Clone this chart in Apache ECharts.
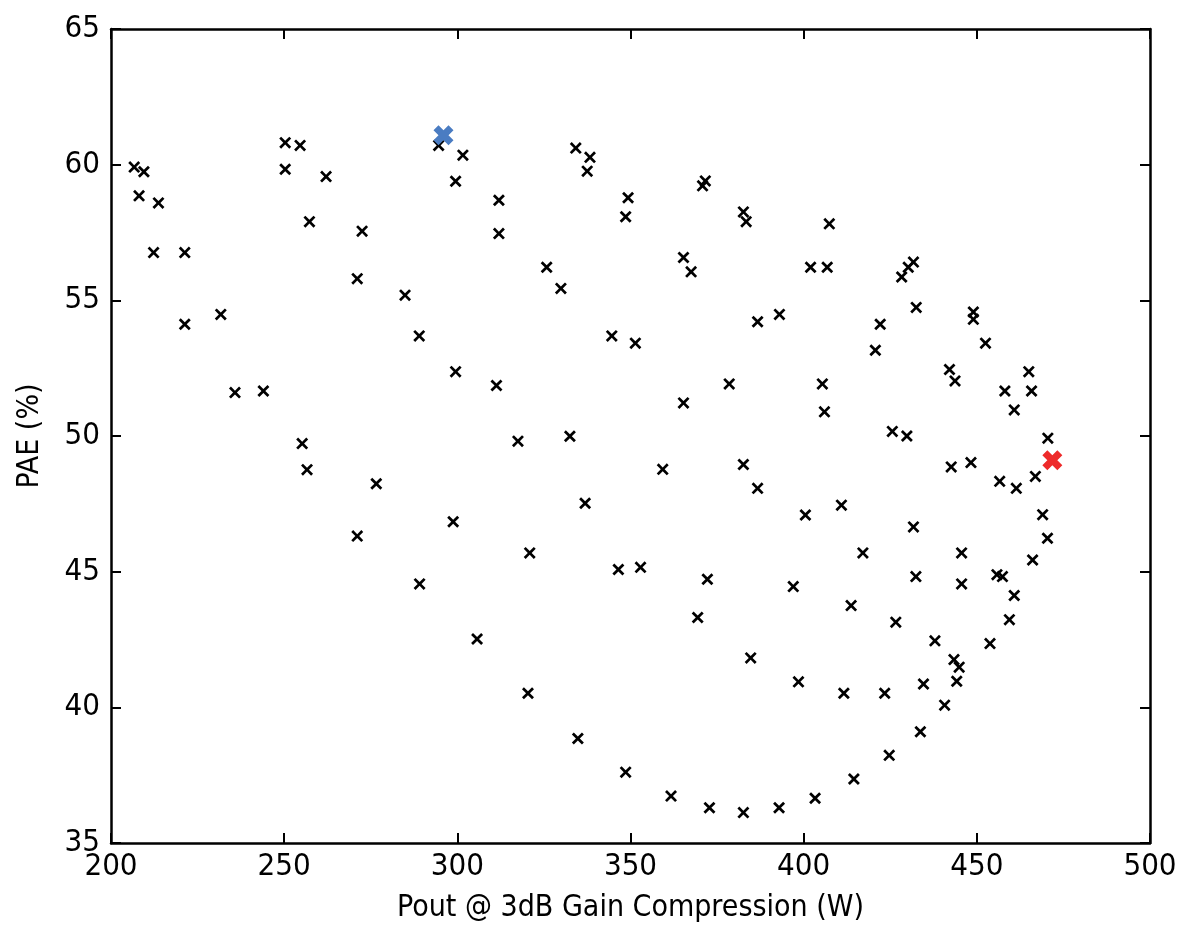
<!DOCTYPE html>
<html>
<head>
<meta charset="utf-8">
<script src="https://cdn.jsdelivr.net/npm/echarts@6/dist/echarts.min.js"></script>
<style>
html,body{margin:0;padding:0;background:#fff;}
#chart{width:1189px;height:928px;}
</style>
</head>
<body>
<div id="chart"></div>
<script>
// Load-pull contour points: Pout (W) and PAE (%)
const pout = [
206.7,209.5,208.1,213.7,212.3,221.3,221.3,231.7,235.8,244.0,
250.3,254.6,250.3,262.1,257.3,272.5,271.1,294.6,301.6,299.5,
312.0,312.0,325.8,329.9,284.9,289.0,299.5,311.3,334.2,338.3,
337.5,349.3,348.6,344.6,351.4,382.6,383.4,407.4,365.3,367.5,
402.0,406.8,431.7,430.2,428.3,432.5,393.0,386.7,422.1,420.7,
442.1,443.7,378.5,405.4,365.3,406.0,425.6,429.8,382.6,386.7,
442.6,359.3,449.0,449.0,452.5,465.0,458.1,465.8,460.8,470.5,
448.3,456.6,461.4,466.9,469.0,317.5,255.2,256.6,276.6,298.8,
271.1,320.9,289.1,305.7,336.9,400.5,410.9,346.5,352.9,372.2,
397.0,417.1,413.7,426.6,369.4,384.7,398.5,411.6,423.4,320.4,
334.8,348.6,361.7,372.8,382.6,392.9,403.3,414.5,424.7,470.4,
431.7,445.6,466.1,432.4,445.6,455.8,457.4,460.8,459.4,437.9,
453.8,443.4,444.9,444.2,434.6,440.7,433.7,371.6,370.8,332.5
];
const pae = [
59.91,59.74,58.85,58.59,56.76,56.76,54.12,54.48,51.60,51.66,
60.81,60.71,59.83,59.56,57.90,57.55,55.80,60.71,60.35,59.39,
58.69,57.46,56.22,55.44,55.19,53.69,52.37,51.86,60.61,60.27,
59.76,58.78,58.08,53.69,53.42,58.26,57.90,57.82,56.58,56.05,
56.22,56.22,56.41,56.22,55.86,54.74,54.48,54.21,54.12,53.16,
52.45,52.03,51.92,51.92,51.22,50.89,50.17,50.00,48.95,48.07,
48.86,48.77,54.57,54.30,53.42,52.37,51.66,51.66,50.96,49.92,
49.02,48.33,48.07,48.51,47.10,49.81,49.72,48.76,48.24,46.84,
46.31,45.69,44.55,42.52,47.52,47.09,47.45,45.08,45.16,44.72,
44.45,45.69,43.75,43.14,43.31,41.82,40.94,40.52,40.52,40.52,
38.85,37.61,36.73,36.30,36.12,36.30,36.65,37.36,38.23,46.23,
46.65,45.69,45.43,44.82,44.55,44.89,44.82,44.12,43.23,42.45,
42.35,41.76,41.48,40.96,40.86,40.08,39.10,59.40,59.22,49.99
];
// Highlighted optima
const maxPae = [296.0, 61.08];   // blue
const maxPout = [471.8, 49.11];  // red

const xTicks = [200, 250, 300, 350, 400, 450, 500];
const yTicks = [35, 40, 45, 50, 55, 60, 65];

const FONT = "'Liberation Sans Narrow', 'DejaVu Sans Condensed', 'Roboto', sans-serif";
const smallX = 'path://M0,1.6L1.6,0L5,3.4L8.4,0L10,1.6L6.6,5L10,8.4L8.4,10L5,6.6L1.6,10L0,8.4L3.4,5Z';
const bigX = 'path://M0,2.5L2.5,0L5,2.5L7.5,0L10,2.5L7.5,5L10,7.5L7.5,10L5,7.5L2.5,10L0,7.5L2.5,5Z';

const pts = pout.map((x, i) => [x, pae[i]]);

const axisLine = {show: true, lineStyle: {color: '#000', width: 2.5}};
const tick = {show: true, inside: true, length: 10, lineStyle: {color: '#000', width: 2}};

const chart = echarts.init(document.getElementById('chart'), null, {renderer: 'canvas'});
chart.setOption({
  animation: false,
  backgroundColor: '#fff',
  grid: {left: 111, right: 39, top: 29, bottom: 81, containLabel: false},
  xAxis: [{
    type: 'value', min: xTicks[0], max: xTicks[xTicks.length-1], interval: 50,
    position: 'bottom',
    axisLine: axisLine, axisTick: tick, splitLine: {show: false},
    axisLabel: {color: '#000', fontSize: 31, fontFamily: FONT, margin: 8},
    name: 'Pout @ 3dB Gain Compression (W)', nameLocation: 'middle', nameGap: 50,
    nameTextStyle: {color: '#000', fontSize: 30, fontFamily: FONT}
  }, {
    type: 'value', min: xTicks[0], max: xTicks[xTicks.length-1], interval: 50,
    position: 'top',
    axisLine: axisLine, axisTick: tick, splitLine: {show: false},
    axisLabel: {show: false}
  }],
  yAxis: [{
    type: 'value', min: yTicks[0], max: yTicks[yTicks.length-1], interval: 5,
    position: 'left',
    axisLine: axisLine, axisTick: tick, splitLine: {show: false},
    axisLabel: {color: '#000', fontSize: 31, fontFamily: FONT, margin: 11},
    name: 'PAE (%)', nameLocation: 'middle', nameGap: 66,
    nameTextStyle: {color: '#000', fontSize: 30, fontFamily: FONT}
  }, {
    type: 'value', min: yTicks[0], max: yTicks[yTicks.length-1], interval: 5,
    position: 'right',
    axisLine: axisLine, axisTick: tick, splitLine: {show: false},
    axisLabel: {show: false}
  }],
  series: [{
    type: 'scatter', data: pts, symbol: smallX, symbolSize: 12,
    itemStyle: {color: '#000', opacity: 1}
  }, {
    type: 'scatter', data: [maxPae], symbol: bigX, symbolSize: 20,
    itemStyle: {color: '#4a7cc2', opacity: 1}, z: 3
  }, {
    type: 'scatter', data: [maxPout], symbol: bigX, symbolSize: 20,
    itemStyle: {color: '#ee2a2a', opacity: 1}, z: 3
  }]
});
</script>
</body>
</html>
